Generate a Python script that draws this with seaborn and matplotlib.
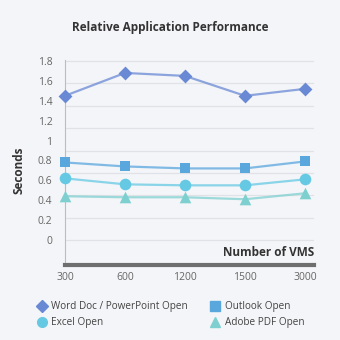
import matplotlib
matplotlib.use("Agg")
import matplotlib.pyplot as plt
from matplotlib.lines import Line2D
import numpy as np
import pandas as pd
import seaborn as sns

# ---- data ----
vms = ["300", "600", "1200", "1500", "3000"]
word = [1.45, 1.68, 1.65, 1.45, 1.52]
outlook = [0.78, 0.74, 0.72, 0.72, 0.79]
excel = [0.62, 0.56, 0.55, 0.55, 0.61]
adobe = [0.44, 0.43, 0.43, 0.41, 0.47]
series_names = ["Word Doc / PowerPoint Open", "Outlook Open", "Excel Open", "Adobe PDF Open"]
y_ticks = [0, 0.2, 0.4, 0.6, 0.8, 1, 1.2, 1.4, 1.6, 1.8]
y_labels = ["0", "0.2", "0.4", "0.6", "0.8", "1", "1.2", "1.4", "1.6", "1.8"]

colors = {"Word Doc / PowerPoint Open": "#6A89D4",
          "Outlook Open": "#5AA7DE",
          "Excel Open": "#66C9E3",
          "Adobe PDF Open": "#7ED0D0"}
markers = {"Word Doc / PowerPoint Open": "D",
           "Outlook Open": "s",
           "Excel Open": "o",
           "Adobe PDF Open": "^"}
msizes = {"Word Doc / PowerPoint Open": 50,
          "Outlook Open": 62,
          "Excel Open": 70,
          "Adobe PDF Open": 70}

rows = []
for name, vals in zip(series_names, [word, outlook, excel, adobe]):
    for i, (v, y) in enumerate(zip(vms, vals)):
        rows.append({"pos": i, "vms": v, "series": name, "value": y})
df = pd.DataFrame(rows)

sns.set_theme(style="white")
plt.rcParams["font.family"] = ["Open Sans", "DejaVu Sans"]
bg = "#F4F5F8"

fig = plt.figure(figsize=(3.4, 3.4), dpi=100, facecolor=bg)
ax = fig.add_axes([65 / 340, 1 - 265 / 340, 249 / 340, 205 / 340])
ax.set_facecolor(bg)

sns.lineplot(data=df, x="pos", y="value", hue="series", palette=colors,
             hue_order=series_names, linewidth=1.6, alpha=0.75, legend=False,
             ax=ax, zorder=3)
for name in series_names:
    sub = df[df.series == name]
    sns.scatterplot(data=sub, x="pos", y="value", color=colors[name],
                    marker=markers[name], s=msizes[name], linewidth=0,
                    legend=False, ax=ax, zorder=4, clip_on=False)

ax.set_xlim(0, 4.15)
ax.set_ylim(-0.251, 1.81)
ax.set_xticks(range(len(vms)))
ax.set_xticklabels(vms)
ax.set_yticks(y_ticks)
ax.set_yticklabels(y_labels)
ax.tick_params(axis="both", length=0, labelsize=7.5, labelcolor="#666666")
ax.tick_params(axis="x", pad=5)
ax.tick_params(axis="y", pad=9)
for g in np.linspace(0, 1.8, 9):
    ax.axhline(g, color="#E0E2E7", lw=0.9, zorder=1)
ax.set_xlabel("")
ax.set_ylabel("")
for s in ["top", "right"]:
    ax.spines[s].set_visible(False)
ax.spines["left"].set_color("#BDBDBD")
ax.spines["left"].set_linewidth(0.8)
ax.spines["bottom"].set_color("#6E6E6E")
ax.spines["bottom"].set_linewidth(3)

ax.text(1.0, 0.063, "Number of VMS", transform=ax.transAxes, ha="right",
        va="center", fontsize=8.5, fontweight="bold", color="#333333")
fig.text(0.5, 1 - 28 / 340, "Relative Application Performance", ha="center",
         va="center", fontsize=8.5, fontweight="bold", color="#333333")
fig.text(19 / 340, 1 - 170 / 340, "Seconds", rotation=90, ha="center",
         va="center", fontsize=8.5, fontweight="bold", color="#333333")

order = ["Word Doc / PowerPoint Open", "Excel Open", "Outlook Open", "Adobe PDF Open"]
handles = [Line2D([], [], linestyle="none", marker=markers[n], color=colors[n],
                  markersize=7 if markers[n] != "D" else 6, label=n) for n in order]
leg = fig.legend(handles=handles, loc="center", bbox_to_anchor=(0.5, 1 - 315 / 340),
                 ncol=2, frameon=False, fontsize=7.2, handletextpad=0.35,
                 columnspacing=2.1, labelspacing=0.5, handlelength=1.2)
for t in leg.get_texts():
    t.set_color("#444444")

fig.savefig("out.png", dpi=100, facecolor=bg)
